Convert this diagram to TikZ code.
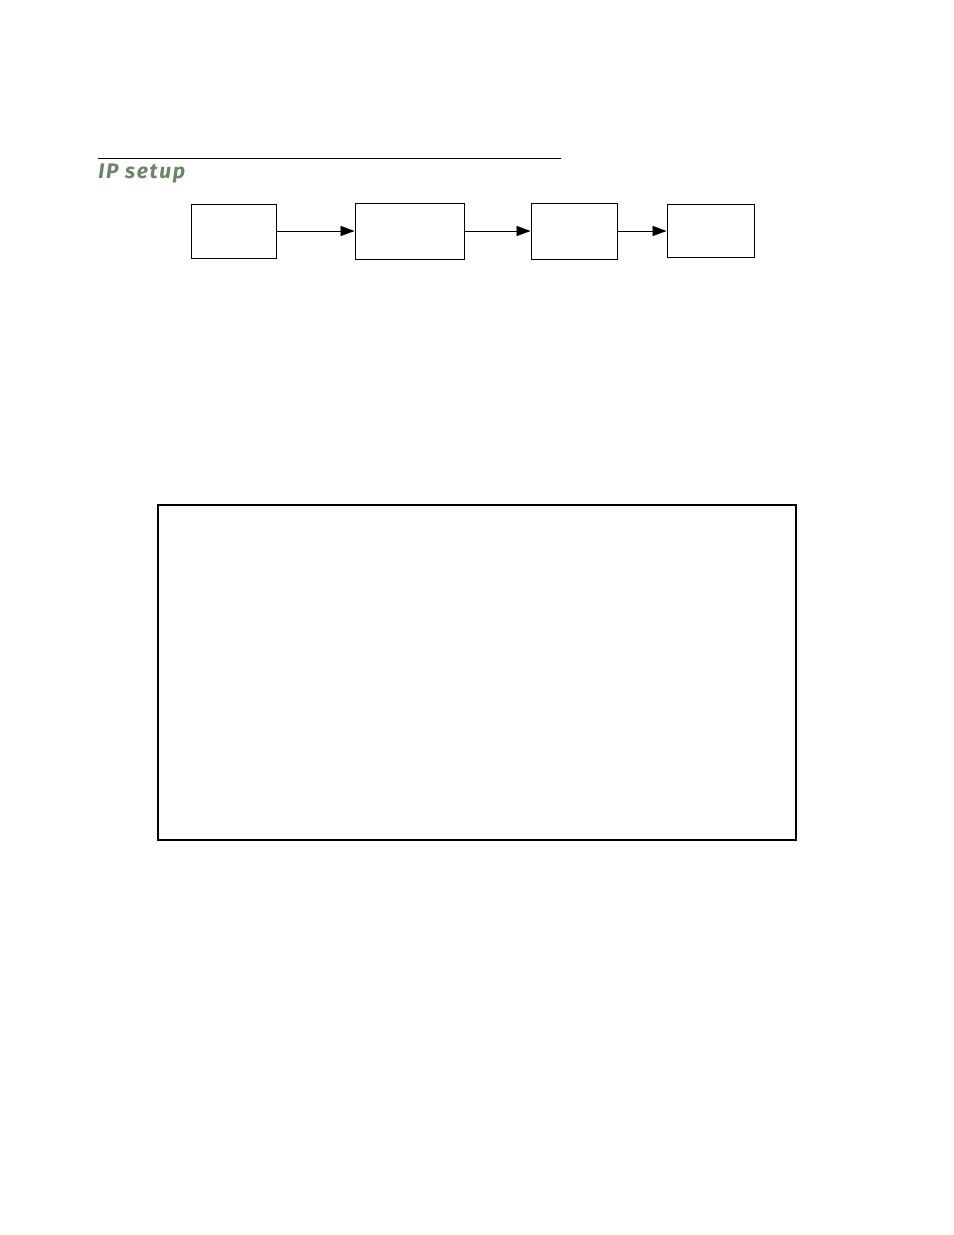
\documentclass[tikz,border=0pt]{standalone}
\usepackage{fontspec}
\usetikzlibrary{arrows.meta}
\newfontfamily\headfont{Fira Sans}[LetterSpace=8]
\definecolor{headgreen}{RGB}{104,134,104}
\newlength\px
\setlength\px{0.6415pt}

\begin{document}
\begin{tikzpicture}[x=\px,y=-\px,line width=0.6pt]
        %
        % `stage' is used for the small boxes of the chain.
        % `panel' is used for the large empty frame.
        \tikzstyle{stage} = [draw,inner sep=0pt]
        \tikzstyle{panel} = [draw,line width=1.4pt,inner sep=0pt]
        \tikzstyle{flow} = [-{Triangle[length=9pt,width=6.5pt]}]
        %
        % Page
        \useasboundingbox (0,0) rectangle (954,1235);
        %
        % Heading
        \coordinate (rulel) at (98,158);
        \coordinate (ruler) at (561,158);
        \draw (rulel) -- (ruler);
        \node[anchor=base west,inner sep=0pt,text=headgreen] (title) at (98,178.5)
        {\headfont\bfseries\itshape\fontsize{13.5}{16}\selectfont IP setup};
        %
        % Chain of stages
        \node[stage,minimum width={85*\px},minimum height={54*\px}] (st1) at (233.5,231) {};
        \node[stage,minimum width={109*\px},minimum height={56*\px}] (st2) at (409.5,231) {};
        \node[stage,minimum width={86*\px},minimum height={56*\px}] (st3) at (574,231) {};
        \node[stage,minimum width={87*\px},minimum height={53*\px}] (st4) at (710.5,231) {};
        \draw[flow] (st1) -- (st2);
        \draw[flow] (st2) -- (st3);
        \draw[flow] (st3) -- (st4);
        %
        % Frame
        \node[panel,minimum width={638*\px},minimum height={335*\px}] (frame) at (477,672.5) {};
        %
\end{tikzpicture}
\end{document}
